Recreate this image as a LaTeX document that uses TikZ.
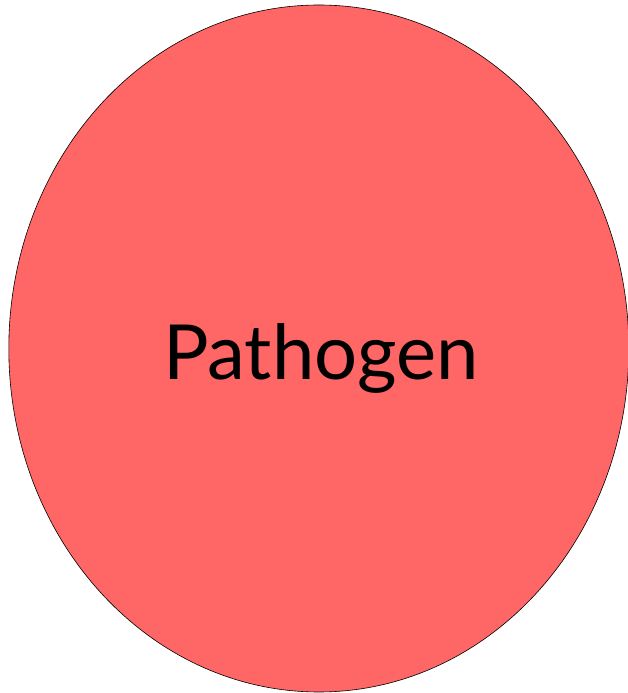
\documentclass[tikz,border=0pt]{standalone}
\usepackage{fontspec}
\setmainfont{Lato}
\usetikzlibrary{shapes.geometric, positioning}
\definecolor{pathred}{RGB}{255,102,102}
\tikzset{
  cell/.style={draw=black, line width=0.6pt, fill=pathred, ellipse,
    inner sep=0pt, minimum width=620pt, minimum height=687pt}, % the big cell
  celltext/.style={font=\fontsize{76}{80}\selectfont, inner sep=0pt, anchor=base},
}
\begin{document}
\begin{tikzpicture}[x=1pt, y=1pt]
    \useasboundingbox (0,0) rectangle (628,693);
    \node[cell] (pathogen) at (318.8,344.5) {};
    \node[celltext] (name) at (321,313) {Pathogen};
\end{tikzpicture}
\end{document}
